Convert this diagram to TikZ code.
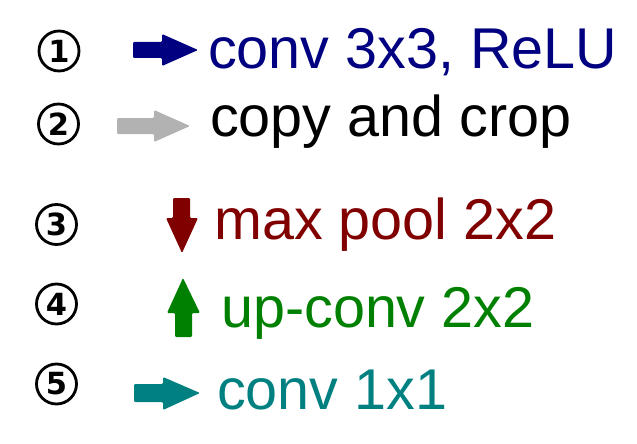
\documentclass[tikz,border=0pt]{standalone}
\usepackage{fontspec}
\setmainfont{Liberation Sans}
\newfontfamily\digitfont{DejaVu Sans}
\definecolor{cnavy}{RGB}{0,0,128}
\definecolor{cgray}{RGB}{178,178,178}
\definecolor{cmaroon}{RGB}{128,0,0}
\definecolor{cgreen}{RGB}{0,128,0}
\definecolor{cteal}{RGB}{0,128,128}
\begin{document}
\begin{tikzpicture}[x=1pt,y=-1pt,
  lbl/.style={anchor=base west,inner sep=0pt,font=\fontsize{57.5}{60}\selectfont},
  num/.style={circle,draw=black,line width=2.8pt,minimum size=40pt,inner sep=0pt,
    font=\digitfont\bfseries\fontsize{30.5}{32}\selectfont},
  arr/.style={rounded corners=1.2pt}]
\useasboundingbox (0,0) rectangle (637,444);
% circled numbers
\node[num] (n1) at (59,51) {1};
\node[num] (n2) at (58.5,124) {2};
\node[num] (n3) at (56.5,224.5) {3};
\node[num] (n4) at (56.5,304) {4};
\node[num] (n5) at (56.5,384) {5};
% labels
\node[lbl,text=cnavy] (t1) at (208,68) {conv 3x3, ReLU};
\node[lbl,text=black] (t2) at (210,136) {copy and crop};
\node[lbl,text=cmaroon] (t3) at (214,239) {max pool 2x2};
\node[lbl,text=cgreen] (t4) at (221,327) {up-conv 2x2};
\node[lbl,text=cteal] (t5) at (217,409) {conv 1x1};
% arrows
\fill[cnavy,arr] (133,42) -- (162,42) -- (162,34) -- (198,50) -- (162,66) -- (162,58) -- (133,58) -- cycle;
\fill[cgray,arr] (117,118) -- (154,118) -- (154,110) -- (190,126) -- (154,142) -- (154,134) -- (117,134) -- cycle;
\fill[cmaroon,arr] (173,198) -- (190,198) -- (190,218) -- (198,218) -- (182,253) -- (166,218) -- (173,218) -- cycle;
\fill[cgreen,arr] (175,337) -- (192,337) -- (192,313) -- (200,313) -- (183,278) -- (167,313) -- (175,313) -- cycle;
\fill[cteal,arr] (134,384) -- (163,384) -- (163,377) -- (200,393) -- (163,410) -- (163,402) -- (134,402) -- cycle;
\end{tikzpicture}
\end{document}
